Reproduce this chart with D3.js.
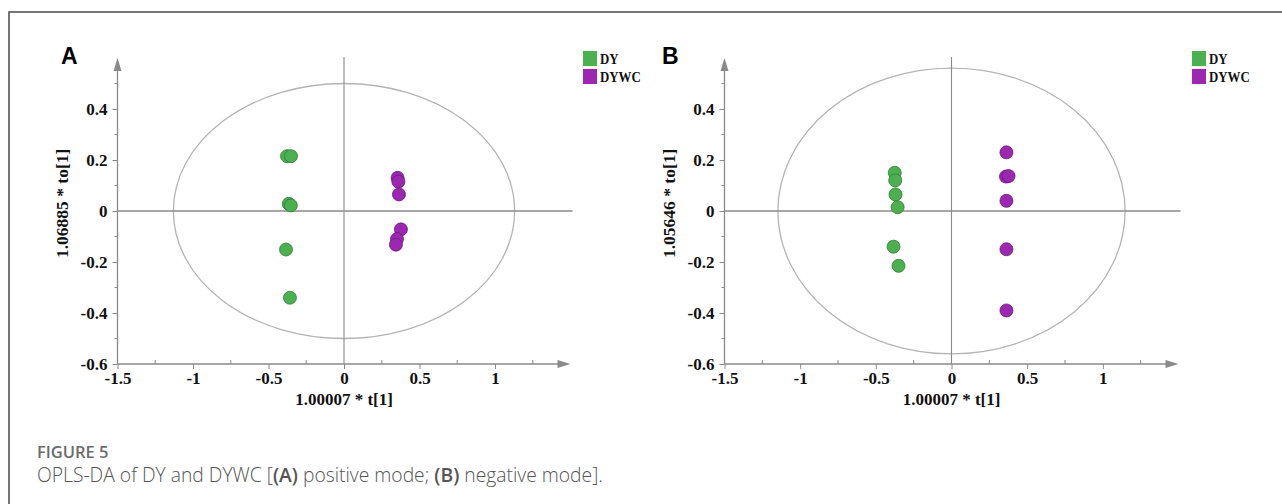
<!DOCTYPE html>
<html><head><meta charset="utf-8">
<script src="https://cdn.jsdelivr.net/npm/d3@7"></script>
<style>
html,body{margin:0;padding:0;background:#fff;}
svg{display:block;}
</style></head>
<body>
<svg id="chart" width="1282" height="504"></svg>
<script>
// ---------- data ----------
const groups = ["DY", "DYWC"];
const groupColors = ["#4caf50", "#9c27b0"];
const groupStrokes = ["#2e7d32", "#6a1b7a"];
const xTicks = [-1.5, -1, -0.5, 0, 0.5, 1];
const xMinorTicks = [-1.25, -0.75, -0.25, 0.25, 0.75, 1.25];
const yTicks = [-0.6, -0.4, -0.2, 0, 0.2, 0.4];
const yMinorTicks = [-0.5, -0.3, -0.1, 0.1, 0.3, 0.5];
const panelLabels = ["A", "B"];
const xTitles = ["1.00007 * t[1]", "1.00007 * t[1]"];
const yTitles = ["1.06885 * to[1]", "1.05646 * to[1]"];
// panel A (positive mode)
const aDYx = [-0.377, -0.351, -0.366, -0.352, -0.384, -0.358];
const aDYy = [0.215, 0.215, 0.028, 0.022, -0.151, -0.340];
const aDYWCx = [0.355, 0.360, 0.364, 0.377, 0.351, 0.344];
const aDYWCy = [0.130, 0.115, 0.065, -0.072, -0.110, -0.132];
// panel B (negative mode)
const bDYx = [-0.375, -0.372, -0.370, -0.356, -0.383, -0.350];
const bDYy = [0.150, 0.120, 0.065, 0.015, -0.140, -0.215];
const bDYWCx = [0.363, 0.360, 0.377, 0.363, 0.363, 0.363];
const bDYWCy = [0.230, 0.135, 0.137, 0.040, -0.150, -0.390];
// Hotelling T2 ellipse semi-axes [rx, ry]
const ellipseA = [1.13, 0.50];
const ellipseB = [1.147, 0.56];
const captionHead = "FIGURE 5";

// ---------- drawing ----------
const svg = d3.select("#chart");
const serif = "'Liberation Serif','Times New Roman',serif";
const fmt = d => String(d);

// frame
svg.append("path").attr("d", "M9,504 L9,12 L1282,12")
  .attr("fill", "none").attr("stroke", "#4a4a4a").attr("stroke-width", 1.5);

const panels = [
  {label: panelLabels[0], left: 117.5, right: 570.5, labelX: 61, legendX: 583,
   series: [[aDYx, aDYy], [aDYWCx, aDYWCy]], ell: ellipseA, xt: xTitles[0], yt: yTitles[0]},
  {label: panelLabels[1], left: 724.5, right: 1178.5, labelX: 662, legendX: 1192,
   series: [[bDYx, bDYy], [bDYWCx, bDYWCy]], ell: ellipseB, xt: xTitles[1], yt: yTitles[1]}
];

const axisCol = "#8a8a8a";

panels.forEach(p => {
  const g = svg.append("g");
  const x = d3.scaleLinear().domain([-1.5, 1.5]).range([p.left, p.right]);
  const y = d3.scaleLinear().domain([-0.6, 0.6]).range([364, 58]);

  // ellipse
  g.append("ellipse")
    .attr("cx", x(0)).attr("cy", y(0))
    .attr("rx", x(p.ell[0]) - x(0)).attr("ry", y(0) - y(p.ell[1]))
    .attr("fill", "none").attr("stroke", "#b4b4b4").attr("stroke-width", 1.3);

  // zero lines
  g.append("line").attr("x1", x(-1.5)).attr("x2", x(1.5) + 2)
    .attr("y1", y(0)).attr("y2", y(0)).attr("stroke", axisCol).attr("stroke-width", 1.3);
  g.append("line").attr("x1", x(0)).attr("x2", x(0))
    .attr("y1", y(0.6) - 1).attr("y2", y(-0.6)).attr("stroke", axisCol).attr("stroke-width", 1.1);

  // x axis
  const xAxis = d3.axisBottom(x).tickValues(xTicks).tickSize(5).tickPadding(3).tickFormat(fmt);
  const xg = g.append("g").attr("transform", `translate(0,${y(-0.6)})`).call(xAxis);
  xg.select(".domain").remove();
  xg.append("line").attr("x1", x(-1.5)).attr("x2", x(1.5) - 10).attr("stroke", axisCol).attr("stroke-width", 1.3);
  xg.append("path").attr("d", `M${x(1.5)},0 L${x(1.5) - 13},-4 L${x(1.5) - 13},4 Z`).attr("fill", axisCol);
  xg.selectAll(".tick line").attr("stroke", axisCol);
  xg.selectAll(".tick text").attr("font-family", serif).attr("font-weight", "bold")
    .attr("font-size", 17).attr("fill", "#111");
  xg.selectAll(".minor").data(xMinorTicks).enter().append("line")
    .attr("x1", d => x(d)).attr("x2", d => x(d)).attr("y1", 0).attr("y2", -4)
    .attr("stroke", axisCol);

  // y axis
  const yAxis = d3.axisLeft(y).tickValues(yTicks).tickSize(5).tickPadding(5).tickFormat(fmt);
  const yg = g.append("g").attr("transform", `translate(${x(-1.5)},0)`).call(yAxis);
  yg.select(".domain").remove();
  yg.append("line").attr("y1", y(-0.6)).attr("y2", y(0.6) + 10).attr("stroke", axisCol).attr("stroke-width", 1.3);
  yg.append("path").attr("d", `M0,${y(0.6)} L-4,${y(0.6) + 13} L4,${y(0.6) + 13} Z`).attr("fill", axisCol);
  yg.selectAll(".tick line").attr("stroke", axisCol);
  yg.selectAll(".tick text").attr("font-family", serif).attr("font-weight", "bold")
    .attr("font-size", 17).attr("fill", "#111");
  yg.selectAll(".minor").data(yMinorTicks).enter().append("line")
    .attr("y1", d => y(d)).attr("y2", d => y(d)).attr("x1", 0).attr("x2", -3)
    .attr("stroke", axisCol);

  // titles
  g.append("text").attr("x", x(0)).attr("y", 405).attr("text-anchor", "middle")
    .attr("font-family", serif).attr("font-weight", "bold").attr("font-size", 17)
    .attr("fill", "#111").text(p.xt);
  g.append("text").attr("transform", `translate(${x(-1.5) - 50},${y(0.03)}) rotate(-90)`)
    .attr("text-anchor", "middle")
    .attr("font-family", serif).attr("font-weight", "bold").attr("font-size", 17.5)
    .attr("fill", "#111").text(p.yt);

  // panel label
  g.append("text").attr("x", p.labelX).attr("y", 64)
    .attr("font-family", "'Liberation Sans',Arial,sans-serif").attr("font-weight", "bold")
    .attr("font-size", 23).attr("fill", "#000").text(p.label);

  // points
  p.series.forEach((s, gi) => {
    const pts = s[0].map((v, i) => ({x: v, y: s[1][i]}));
    g.selectAll(null).data(pts).enter().append("circle")
      .attr("cx", d => x(d.x)).attr("cy", d => y(d.y)).attr("r", 6.5)
      .attr("fill", groupColors[gi]).attr("stroke", groupStrokes[gi]).attr("stroke-width", 0.8);
  });

  // legend
  const lg = g.append("g").attr("transform", `translate(${p.legendX},51)`);
  groups.forEach((name, i) => {
    lg.append("rect").attr("x", 0).attr("y", i * 18).attr("width", 14).attr("height", 15)
      .attr("fill", groupColors[i]);
    lg.append("text").attr("transform", `translate(17,${i * 18 + 13}) scale(0.86,1)`)
      .attr("font-family", serif).attr("font-weight", "bold").attr("font-size", 15)
      .attr("fill", "#111").text(name);
  });
});

// caption
svg.append("text").attr("x", 37).attr("y", 458)
  .attr("font-family", "'Open Sans',sans-serif").attr("font-weight", 600)
  .attr("font-size", 16.5).attr("fill", "#6b6b6b").text(captionHead);
const cap = svg.append("text").attr("x", 37).attr("y", 482)
  .attr("font-family", "'Open Sans',sans-serif").attr("font-weight", 300)
  .attr("font-size", 19.3).attr("fill", "#555");
cap.append("tspan").text("OPLS-DA of DY and DYWC [");
cap.append("tspan").attr("font-weight", 600).text("(A)");
cap.append("tspan").text(" positive mode; ");
cap.append("tspan").attr("font-weight", 600).text("(B)");
cap.append("tspan").text(" negative mode].");
</script>
</body></html>
